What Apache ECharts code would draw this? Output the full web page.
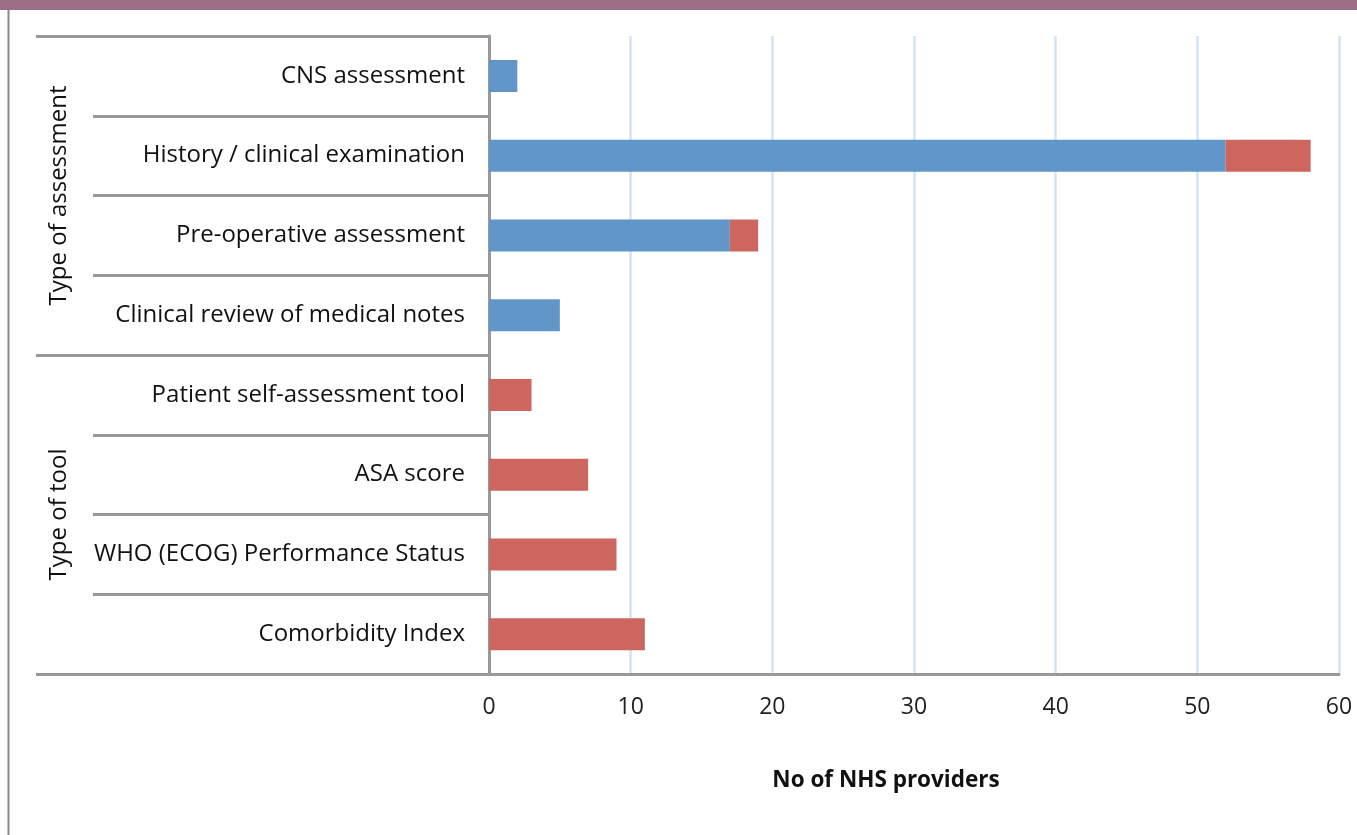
<!DOCTYPE html>
<html>
<head>
<meta charset="utf-8">
<script src="https://cdn.jsdelivr.net/npm/echarts@6/dist/echarts.min.js"></script>
<style>
html,body{margin:0;padding:0;background:#fff;}
#c{width:1357px;height:835px;}
</style>
</head>
<body>
<div id="c"></div>
<script>
var categories = ['CNS assessment','History / clinical examination','Pre-operative assessment','Clinical review of medical notes','Patient self-assessment tool','ASA score','WHO (ECOG) Performance Status','Comorbidity Index'];
var groups = ['Type of assessment','Type of tool'];
var blueValues = [2,52,17,5,0,0,0,0];
var redValues = [0,6,2,0,3,7,9,11];
var xTicks = [0,10,20,30,40,50,60];

var FONT = '"Open Sans", "Noto Sans", sans-serif';
var chart = echarts.init(document.getElementById('c'));
chart.setOption({
  animation:false,
  grid:{left:489,right:18,top:36,bottom:161,containLabel:false},
  graphic:[
    {type:'rect',shape:{x:0,y:0,width:1357,height:10},style:{fill:'#9c6f86'},silent:true},
    {type:'line',shape:{x1:8.5,y1:10,x2:8.5,y2:835},style:{stroke:'#8a8a8a',lineWidth:2},silent:true}
  ],
  xAxis:{
    type:'value',min:xTicks[0],max:xTicks[xTicks.length-1],interval:10,
    axisLine:{show:true,lineStyle:{color:'#999',width:3}},
    axisTick:{show:false},
    axisLabel:{fontFamily:FONT,fontSize:23,color:'#222',margin:22},
    splitLine:{show:true,lineStyle:{color:'#d2e3f4',width:2.5}},
    name:'No of NHS providers',nameLocation:'middle',nameGap:95,
    nameTextStyle:{fontFamily:FONT,fontSize:22.5,fontWeight:'bold',color:'#111',padding:[0,56,0,0]}
  },
  yAxis:[{
    type:'category',data:categories,inverse:true,
    axisLine:{show:true,lineStyle:{color:'#999',width:3}},
    axisTick:{show:true,length:396,lineStyle:{color:'#999',width:3}},
    axisLabel:{fontFamily:FONT,fontSize:24,color:'#111',margin:24,padding:[6,0,0,0]}
  },{
    type:'category',data:groups,inverse:true,position:'left',
    axisLine:{show:false},
    axisTick:{show:true,length:453,lineStyle:{color:'#999',width:3}},
    axisLabel:{fontFamily:FONT,fontSize:24,color:'#111',margin:418,rotate:90}
  }],
  series:[
    {type:'bar',stack:'a',data:blueValues,barWidth:32,yAxisIndex:0,
     itemStyle:{color:'#6096c8'}},
    {type:'bar',stack:'a',data:redValues,barWidth:32,yAxisIndex:0,
     itemStyle:{color:'#cd665f'}}
  ]
});
</script>
</body>
</html>
